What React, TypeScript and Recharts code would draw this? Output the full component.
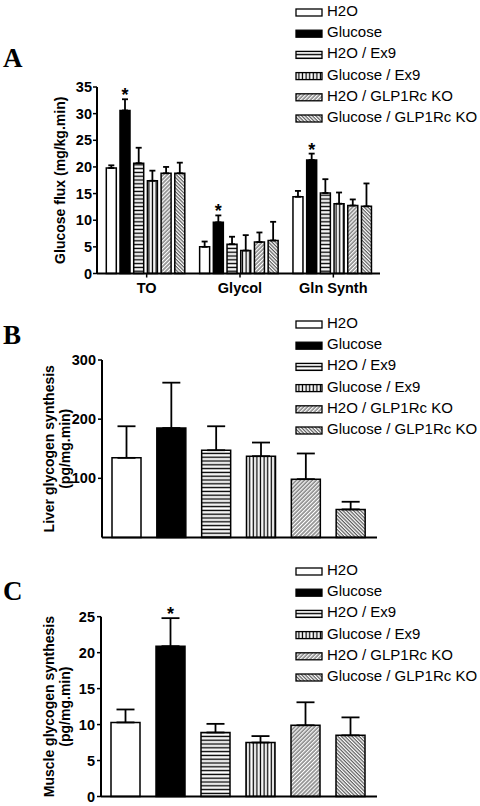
import React from "react";
import { BarChart, Bar, XAxis, YAxis, ErrorBar, LabelList, Legend, Cell } from "recharts";

const FONT = '"Liberation Sans", Arial, Helvetica, sans-serif';
const SERIF = '"Liberation Serif", "Times New Roman", serif';

const groups = [
  "H2O",
  "Glucose",
  "H2O / Ex9",
  "Glucose / Ex9",
  "H2O / GLP1Rc KO",
  "Glucose / GLP1Rc KO",
];

// Panel A: glucose flux per pathway, one row per group
const fluxCategories = ["TO", "Glycol", "Gln Synth"];
const fluxMeans = [
  [19.8, 5.0, 14.4],
  [30.6, 9.6, 21.3],
  [20.7, 5.5, 15.1],
  [17.4, 4.3, 13.1],
  [18.8, 5.9, 12.75],
  [18.8, 6.2, 12.6],
];
const fluxErr = [
  [0.5, 1.0, 1.1],
  [2.1, 1.3, 1.2],
  [2.9, 1.4, 2.6],
  [1.9, 2.9, 2.1],
  [1.2, 1.8, 1.15],
  [2.0, 3.5, 4.3],
];
const fluxStars = ["*", "*", "*"];
const fluxTicks = [0, 5, 10, 15, 20, 25, 30, 35];

// Panel B: liver glycogen synthesis
const liverMeans = [134.6, 185, 147.5, 137.4, 98.6, 47.5];
const liverErr = [53.4, 76.7, 40.5, 23.1, 43.4, 12.9];
const liverTicks = [0, 100, 200, 300];

// Panel C: muscle glycogen synthesis
const muscleMeans = [10.3, 20.9, 8.9, 7.5, 9.9, 8.5];
const muscleErr = [1.8, 3.9, 1.2, 0.9, 3.2, 2.5];
const muscleStars = ["", "*", "", "", "", ""];
const muscleTicks = [0, 5, 10, 15, 20, 25];

const fluxData = fluxCategories.map((cat, i) => {
  const row: any = { cat, star: fluxStars[i] };
  groups.forEach((_, s) => {
    row[`v${s}`] = fluxMeans[s][i];
    row[`e${s}`] = [0, fluxErr[s][i]];
  });
  return row;
});

const liverData = groups.map((g, i) => ({ g, v: liverMeans[i], e: [0, liverErr[i]] }));
const muscleData = groups.map((g, i) => ({
  g,
  v: muscleMeans[i],
  e: [0, muscleErr[i]],
  star: muscleStars[i],
}));

const fillFor = (i: number, suffix: string) => {
  if (i === 0) return "#fff";
  if (i === 1) return "#000";
  return `url(#pat${i}-${suffix})`;
};

function Patterns({ suffix }: { suffix: string }) {
  return (
    <defs>
      <pattern id={`pat2-${suffix}`} width={4} height={3.8} patternUnits="userSpaceOnUse">
        <rect width={4} height={3.8} fill="#fff" />
        <line x1={0} y1={1.4} x2={4} y2={1.4} stroke="#000" strokeWidth={1.4} />
      </pattern>
      <pattern id={`pat3-${suffix}`} width={3.6} height={4} patternUnits="userSpaceOnUse">
        <rect width={3.6} height={4} fill="#fff" />
        <line x1={1.3} y1={0} x2={1.3} y2={4} stroke="#000" strokeWidth={1.3} />
      </pattern>
      <pattern
        id={`pat4-${suffix}`}
        width={2.8}
        height={4}
        patternUnits="userSpaceOnUse"
        patternTransform="rotate(45)"
      >
        <rect width={2.8} height={4} fill="#fff" />
        <line x1={1} y1={0} x2={1} y2={4} stroke="#222" strokeWidth={0.9} />
      </pattern>
      <pattern
        id={`pat5-${suffix}`}
        width={2.5}
        height={4}
        patternUnits="userSpaceOnUse"
        patternTransform="rotate(-45)"
      >
        <rect width={2.5} height={4} fill="#fff" />
        <line x1={1} y1={0} x2={1} y2={4} stroke="#222" strokeWidth={0.9} />
      </pattern>
    </defs>
  );
}

const legendContent = (suffix: string) => () => (
  <svg width={190} height={130} style={{ display: "block" }}>
    {groups.map((g, i) => {
      const base = 16 + i * 21.2;
      return (
        <g key={g}>
          <rect x={2} y={base - 7} width={26} height={7} fill={fillFor(i, suffix)} stroke="#000" strokeWidth={1.3} />
          <text x={33} y={base} fontSize={15} fontFamily={FONT} fill="#000">
            {g}
          </text>
        </g>
      );
    })}
  </svg>
);

const axisTitle = (lines: string[], xs: number[]) => (props: any) => {
  const vb = props.viewBox || {};
  const cy = vb.y + vb.height / 2;
  return (
    <g>
      {lines.map((t, i) => (
        <text
          key={t}
          x={xs[i]}
          y={cy}
          transform={`rotate(-90, ${xs[i]}, ${cy})`}
          textAnchor="middle"
          dominantBaseline="central"
          fontSize={14}
          fontWeight="bold"
          fontFamily={FONT}
          fill="#000"
        >
          {t}
        </text>
      ))}
    </g>
  );
};

// asterisk placed just above the error bar of the same bar
const starLabel = (means: number[], errs: number[]) => (props: any) => {
  const { x, y, width, height, index, value } = props;
  if (!value) return null;
  const perUnit = height / means[index];
  const top = y - errs[index] * perUnit;
  return (
    <text x={x + width / 2} y={top + 2} textAnchor="middle" fontSize={18} fontWeight="bold" fontFamily={FONT} fill="#000">
      {value}
    </text>
  );
};

const tickStyle = { fill: "#000", fontSize: 14.5, fontWeight: "bold", fontFamily: FONT };
const axisLine = { stroke: "#000", strokeWidth: 2 };
const tickLine = { stroke: "#000", strokeWidth: 1.5 };

function PanelLetter({ letter, top }: { letter: string; top: number }) {
  return (
    <svg width={40} height={40} style={{ position: "absolute", left: 0, top }}>
      <text x={3} y={30} fontSize={27} fontWeight="bold" fontFamily={SERIF} fill="#000">
        {letter}
      </text>
    </svg>
  );
}

export default function App() {
  return (
    <div style={{ position: "absolute", left: 0, top: 0, width: 480, height: 806, background: "#fff" }}>
      <PanelLetter letter="A" top={37} />
      <PanelLetter letter="B" top={314} />
      <PanelLetter letter="C" top={570} />

      <div style={{ position: "absolute", left: 0, top: 0 }}>
        <BarChart
          width={480}
          height={300}
          data={fluxData}
          margin={{ top: 87, right: 100, left: 0, bottom: 0 }}
          barCategoryGap={6.3}
          barGap={3.7}
        >
          <Patterns suffix="a" />
          <XAxis
            dataKey="cat"
            height={26.5}
            padding={{ left: 3, right: 0 }}
            axisLine={axisLine}
            tickLine={tickLine}
            tickSize={4}
            tickMargin={5}
            tick={{ ...tickStyle, fontSize: 14.5 }}
            interval={0}
          />
          <YAxis
            width={97}
            domain={[0, 35]}
            ticks={fluxTicks}
            axisLine={axisLine}
            tickLine={tickLine}
            tickSize={4}
            tickMargin={1}
            tick={tickStyle}
            label={axisTitle(["Glucose flux (mg/kg.min)"], [60])}
          />
          <Legend
            layout="horizontal"
            verticalAlign="middle"
            align="center"
            content={legendContent("a")}
            wrapperStyle={{ left: 294, top: 0, width: 190, height: 130 }}
          />
          {groups.map((g, s) => (
            <Bar
              key={g}
              name={g}
              dataKey={`v${s}`}
              fill={fillFor(s, "a")}
              stroke="#000"
              strokeWidth={1.5}
              isAnimationActive={false}
            >
              <ErrorBar dataKey={`e${s}`} width={3} stroke="#000" strokeWidth={1.8} direction="y" />
              {s === 1 && (
                <LabelList dataKey="star" content={starLabel(fluxMeans[1], fluxErr[1])} />
              )}
            </Bar>
          ))}
        </BarChart>
      </div>

      <div style={{ position: "absolute", left: 0, top: 300 }}>
        <BarChart
          width={480}
          height={245}
          data={liverData}
          margin={{ top: 60, right: 103, left: 0, bottom: 0 }}
          barCategoryGap={8}
        >
          <Patterns suffix="b" />
          <XAxis
            dataKey="g"
            height={7.5}
            padding={{ left: 2, right: 4 }}
            axisLine={axisLine}
            tickLine={false}
            tick={false}
          />
          <YAxis
            width={102}
            domain={[0, 300]}
            ticks={liverTicks}
            axisLine={axisLine}
            tickLine={tickLine}
            tickSize={4}
            tickMargin={2}
            tick={tickStyle}
            label={axisTitle(["Liver glycogen synthesis", "(pg/mg.min)"], [48.5, 64.5])}
          />
          <Legend
            layout="horizontal"
            verticalAlign="middle"
            align="center"
            content={legendContent("b")}
            wrapperStyle={{ left: 294, top: 12.3, width: 190, height: 130 }}
          />
          <Bar dataKey="v" stroke="#000" strokeWidth={1.5} isAnimationActive={false}>
            {liverData.map((d, i) => (
              <Cell key={d.g} fill={fillFor(i, "b")} />
            ))}
            <ErrorBar dataKey="e" width={9} stroke="#000" strokeWidth={1.8} direction="y" />
          </Bar>
        </BarChart>
      </div>

      <div style={{ position: "absolute", left: 0, top: 545 }}>
        <BarChart
          width={480}
          height={261}
          data={muscleData}
          margin={{ top: 71.7, right: 103, left: 0, bottom: 0 }}
          barCategoryGap={8}
        >
          <Patterns suffix="c" />
          <XAxis
            dataKey="g"
            height={9.5}
            padding={{ left: 2, right: 4 }}
            axisLine={axisLine}
            tickLine={false}
            tick={false}
          />
          <YAxis
            width={101}
            domain={[0, 25]}
            ticks={muscleTicks}
            axisLine={axisLine}
            tickLine={tickLine}
            tickSize={4}
            tickMargin={2}
            tick={tickStyle}
            label={axisTitle(["Muscle glycogen synthesis", "(pg/mg.min)"], [49.5, 65])}
          />
          <Legend
            layout="horizontal"
            verticalAlign="middle"
            align="center"
            content={legendContent("c")}
            wrapperStyle={{ left: 294, top: 14, width: 190, height: 130 }}
          />
          <Bar dataKey="v" stroke="#000" strokeWidth={1.5} isAnimationActive={false}>
            {muscleData.map((d, i) => (
              <Cell key={d.g} fill={fillFor(i, "c")} />
            ))}
            <ErrorBar dataKey="e" width={9} stroke="#000" strokeWidth={1.8} direction="y" />
            <LabelList dataKey="star" content={starLabel(muscleMeans, muscleErr)} />
          </Bar>
        </BarChart>
      </div>
    </div>
  );
}
